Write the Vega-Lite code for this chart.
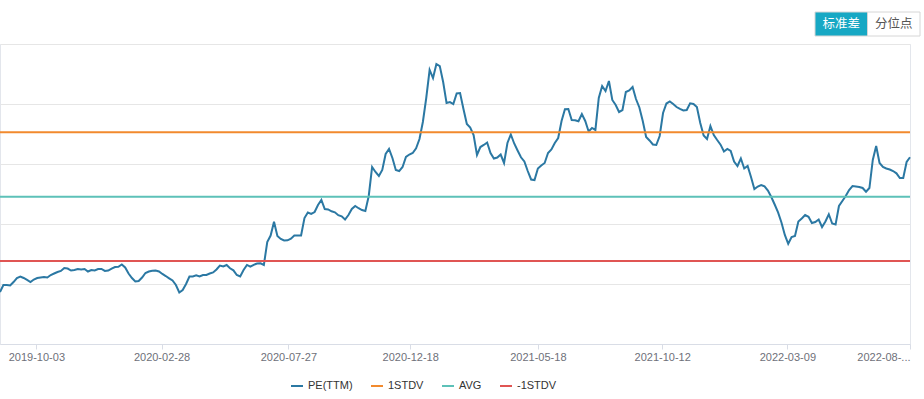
{
  "$schema": "https://vega.github.io/schema/vega-lite/v6.json",
  "background": "white",
  "padding": {"left": -5, "top": 11, "right": 0, "bottom": 0},
  "spacing": 6,
  "config": {"font": "Liberation Sans"},
  "resolve": {
    "scale": {"color": "independent", "fill": "independent", "x": "independent", "y": "independent"},
    "legend": {"color": "independent", "fill": "independent"}
  },
  "datasets": {
    "buttons": [
      {"label": "标准差", "selected": "yes"},
      {"label": "分位点", "selected": "no"}
    ],
    "bands": [
      {"series": "1STDV", "value": 45.3},
      {"series": "AVG", "value": 34.55},
      {"series": "-1STDV", "value": 23.85}
    ],
    "pe": [
      {"date": "2019-08-21", "pe": 18.67}, {"date": "2019-08-25", "pe": 19.83}, {"date": "2019-08-29", "pe": 19.83}, {"date": "2019-09-02", "pe": 19.75},
      {"date": "2019-09-06", "pe": 20.33}, {"date": "2019-09-10", "pe": 21.0}, {"date": "2019-09-14", "pe": 21.25}, {"date": "2019-09-18", "pe": 21.0},
      {"date": "2019-09-22", "pe": 20.67}, {"date": "2019-09-26", "pe": 20.33}, {"date": "2019-09-30", "pe": 20.75}, {"date": "2019-10-04", "pe": 21.0},
      {"date": "2019-10-08", "pe": 21.08}, {"date": "2019-10-12", "pe": 21.17}, {"date": "2019-10-16", "pe": 21.08}, {"date": "2019-10-20", "pe": 21.5},
      {"date": "2019-10-24", "pe": 21.75}, {"date": "2019-10-28", "pe": 22.0}, {"date": "2019-11-01", "pe": 22.17}, {"date": "2019-11-05", "pe": 22.67},
      {"date": "2019-11-09", "pe": 22.58}, {"date": "2019-11-13", "pe": 22.25}, {"date": "2019-11-17", "pe": 22.33}, {"date": "2019-11-21", "pe": 22.5},
      {"date": "2019-11-25", "pe": 22.42}, {"date": "2019-11-29", "pe": 22.5}, {"date": "2019-12-03", "pe": 22.08}, {"date": "2019-12-07", "pe": 22.33},
      {"date": "2019-12-11", "pe": 22.25}, {"date": "2019-12-15", "pe": 22.5}, {"date": "2019-12-19", "pe": 22.5}, {"date": "2019-12-23", "pe": 22.17},
      {"date": "2019-12-27", "pe": 22.25}, {"date": "2019-12-31", "pe": 22.58}, {"date": "2020-01-04", "pe": 22.83}, {"date": "2020-01-08", "pe": 22.88},
      {"date": "2020-01-12", "pe": 23.25}, {"date": "2020-01-16", "pe": 22.75}, {"date": "2020-01-20", "pe": 21.75}, {"date": "2020-01-24", "pe": 21.0},
      {"date": "2020-01-28", "pe": 20.42}, {"date": "2020-02-01", "pe": 20.5}, {"date": "2020-02-05", "pe": 21.08}, {"date": "2020-02-09", "pe": 21.83},
      {"date": "2020-02-13", "pe": 22.08}, {"date": "2020-02-17", "pe": 22.22}, {"date": "2020-02-21", "pe": 22.25}, {"date": "2020-02-25", "pe": 22.08},
      {"date": "2020-02-29", "pe": 21.67}, {"date": "2020-03-04", "pe": 21.33}, {"date": "2020-03-08", "pe": 20.95}, {"date": "2020-03-12", "pe": 20.58},
      {"date": "2020-03-16", "pe": 19.83}, {"date": "2020-03-20", "pe": 18.58}, {"date": "2020-03-24", "pe": 19.0}, {"date": "2020-03-28", "pe": 20.0},
      {"date": "2020-04-01", "pe": 21.25}, {"date": "2020-04-05", "pe": 21.25}, {"date": "2020-04-09", "pe": 21.45}, {"date": "2020-04-13", "pe": 21.25},
      {"date": "2020-04-17", "pe": 21.5}, {"date": "2020-04-21", "pe": 21.5}, {"date": "2020-04-25", "pe": 21.75}, {"date": "2020-04-29", "pe": 21.92},
      {"date": "2020-05-03", "pe": 22.42}, {"date": "2020-05-07", "pe": 23.08}, {"date": "2020-05-11", "pe": 22.92}, {"date": "2020-05-15", "pe": 23.17},
      {"date": "2020-05-19", "pe": 22.62}, {"date": "2020-05-23", "pe": 22.28}, {"date": "2020-05-27", "pe": 21.5}, {"date": "2020-05-31", "pe": 21.25},
      {"date": "2020-06-04", "pe": 22.33}, {"date": "2020-06-08", "pe": 23.17}, {"date": "2020-06-12", "pe": 22.88}, {"date": "2020-06-16", "pe": 23.2},
      {"date": "2020-06-20", "pe": 23.42}, {"date": "2020-06-24", "pe": 23.45}, {"date": "2020-06-28", "pe": 23.17}, {"date": "2020-07-02", "pe": 27.0},
      {"date": "2020-07-06", "pe": 28.08}, {"date": "2020-07-10", "pe": 30.38}, {"date": "2020-07-14", "pe": 28.0}, {"date": "2020-07-18", "pe": 27.5},
      {"date": "2020-07-22", "pe": 27.25}, {"date": "2020-07-26", "pe": 27.28}, {"date": "2020-07-30", "pe": 27.55}, {"date": "2020-08-03", "pe": 28.08},
      {"date": "2020-08-07", "pe": 28.08}, {"date": "2020-08-11", "pe": 28.08}, {"date": "2020-08-15", "pe": 31.0}, {"date": "2020-08-19", "pe": 31.92},
      {"date": "2020-08-23", "pe": 31.67}, {"date": "2020-08-27", "pe": 32.0}, {"date": "2020-08-31", "pe": 33.17}, {"date": "2020-09-04", "pe": 34.0},
      {"date": "2020-09-08", "pe": 32.5}, {"date": "2020-09-12", "pe": 32.42}, {"date": "2020-09-16", "pe": 32.12}, {"date": "2020-09-20", "pe": 31.95},
      {"date": "2020-09-24", "pe": 31.47}, {"date": "2020-09-28", "pe": 31.28}, {"date": "2020-10-02", "pe": 30.75}, {"date": "2020-10-06", "pe": 31.5},
      {"date": "2020-10-10", "pe": 32.5}, {"date": "2020-10-14", "pe": 33.0}, {"date": "2020-10-18", "pe": 32.63}, {"date": "2020-10-22", "pe": 32.33},
      {"date": "2020-10-26", "pe": 32.17}, {"date": "2020-10-30", "pe": 34.67}, {"date": "2020-11-03", "pe": 39.5}, {"date": "2020-11-07", "pe": 38.67},
      {"date": "2020-11-11", "pe": 38.0}, {"date": "2020-11-15", "pe": 39.0}, {"date": "2020-11-19", "pe": 41.67}, {"date": "2020-11-23", "pe": 42.5},
      {"date": "2020-11-27", "pe": 41.0}, {"date": "2020-12-01", "pe": 39.0}, {"date": "2020-12-05", "pe": 38.83}, {"date": "2020-12-09", "pe": 39.5},
      {"date": "2020-12-13", "pe": 41.17}, {"date": "2020-12-17", "pe": 41.58}, {"date": "2020-12-21", "pe": 41.83}, {"date": "2020-12-25", "pe": 42.62},
      {"date": "2020-12-29", "pe": 44.17}, {"date": "2021-01-02", "pe": 47.0}, {"date": "2021-01-06", "pe": 51.0}, {"date": "2021-01-10", "pe": 55.67},
      {"date": "2021-01-14", "pe": 54.33}, {"date": "2021-01-18", "pe": 56.67}, {"date": "2021-01-22", "pe": 56.33}, {"date": "2021-01-26", "pe": 53.67},
      {"date": "2021-01-30", "pe": 50.17}, {"date": "2021-02-03", "pe": 50.33}, {"date": "2021-02-07", "pe": 50.0}, {"date": "2021-02-11", "pe": 51.75},
      {"date": "2021-02-15", "pe": 51.83}, {"date": "2021-02-19", "pe": 49.17}, {"date": "2021-02-23", "pe": 46.67}, {"date": "2021-02-27", "pe": 46.08},
      {"date": "2021-03-03", "pe": 44.83}, {"date": "2021-03-07", "pe": 41.5}, {"date": "2021-03-11", "pe": 42.83}, {"date": "2021-03-15", "pe": 43.17},
      {"date": "2021-03-19", "pe": 43.58}, {"date": "2021-03-23", "pe": 41.83}, {"date": "2021-03-27", "pe": 40.92}, {"date": "2021-03-31", "pe": 41.08},
      {"date": "2021-04-04", "pe": 41.58}, {"date": "2021-04-08", "pe": 40.17}, {"date": "2021-04-12", "pe": 43.5}, {"date": "2021-04-16", "pe": 44.92},
      {"date": "2021-04-20", "pe": 43.42}, {"date": "2021-04-24", "pe": 42.25}, {"date": "2021-04-28", "pe": 41.12}, {"date": "2021-05-02", "pe": 40.42},
      {"date": "2021-05-06", "pe": 38.83}, {"date": "2021-05-10", "pe": 37.42}, {"date": "2021-05-14", "pe": 37.33}, {"date": "2021-05-18", "pe": 39.25},
      {"date": "2021-05-22", "pe": 39.75}, {"date": "2021-05-26", "pe": 40.17}, {"date": "2021-05-30", "pe": 41.83}, {"date": "2021-06-03", "pe": 42.42},
      {"date": "2021-06-07", "pe": 43.5}, {"date": "2021-06-11", "pe": 44.33}, {"date": "2021-06-15", "pe": 47.17}, {"date": "2021-06-19", "pe": 49.12},
      {"date": "2021-06-23", "pe": 49.17}, {"date": "2021-06-27", "pe": 47.33}, {"date": "2021-07-01", "pe": 47.3}, {"date": "2021-07-05", "pe": 47.12},
      {"date": "2021-07-09", "pe": 48.33}, {"date": "2021-07-13", "pe": 47.17}, {"date": "2021-07-17", "pe": 45.42}, {"date": "2021-07-21", "pe": 46.0},
      {"date": "2021-07-25", "pe": 45.67}, {"date": "2021-07-29", "pe": 51.0}, {"date": "2021-08-02", "pe": 53.0}, {"date": "2021-08-06", "pe": 52.17},
      {"date": "2021-08-10", "pe": 53.83}, {"date": "2021-08-14", "pe": 50.67}, {"date": "2021-08-18", "pe": 49.83}, {"date": "2021-08-22", "pe": 48.67},
      {"date": "2021-08-26", "pe": 49.0}, {"date": "2021-08-30", "pe": 52.0}, {"date": "2021-09-03", "pe": 52.25}, {"date": "2021-09-07", "pe": 52.83},
      {"date": "2021-09-11", "pe": 50.83}, {"date": "2021-09-15", "pe": 49.42}, {"date": "2021-09-19", "pe": 47.17}, {"date": "2021-09-23", "pe": 44.5},
      {"date": "2021-09-27", "pe": 43.92}, {"date": "2021-10-01", "pe": 43.25}, {"date": "2021-10-05", "pe": 43.17}, {"date": "2021-10-09", "pe": 44.67},
      {"date": "2021-10-13", "pe": 48.5}, {"date": "2021-10-17", "pe": 50.08}, {"date": "2021-10-21", "pe": 50.42}, {"date": "2021-10-25", "pe": 50.0},
      {"date": "2021-10-29", "pe": 49.5}, {"date": "2021-11-02", "pe": 49.17}, {"date": "2021-11-06", "pe": 48.92}, {"date": "2021-11-10", "pe": 49.0},
      {"date": "2021-11-14", "pe": 50.12}, {"date": "2021-11-18", "pe": 50.0}, {"date": "2021-11-22", "pe": 49.5}, {"date": "2021-11-26", "pe": 46.83},
      {"date": "2021-11-30", "pe": 44.75}, {"date": "2021-12-04", "pe": 44.17}, {"date": "2021-12-08", "pe": 46.33}, {"date": "2021-12-12", "pe": 44.83},
      {"date": "2021-12-16", "pe": 44.0}, {"date": "2021-12-20", "pe": 43.22}, {"date": "2021-12-24", "pe": 42.08}, {"date": "2021-12-28", "pe": 42.5},
      {"date": "2022-01-01", "pe": 42.17}, {"date": "2022-01-05", "pe": 40.42}, {"date": "2022-01-09", "pe": 39.67}, {"date": "2022-01-13", "pe": 40.92},
      {"date": "2022-01-17", "pe": 39.25}, {"date": "2022-01-21", "pe": 39.67}, {"date": "2022-01-25", "pe": 37.83}, {"date": "2022-01-29", "pe": 35.83},
      {"date": "2022-02-02", "pe": 36.25}, {"date": "2022-02-06", "pe": 36.5}, {"date": "2022-02-10", "pe": 36.28}, {"date": "2022-02-14", "pe": 35.58},
      {"date": "2022-02-18", "pe": 34.5}, {"date": "2022-02-22", "pe": 33.25}, {"date": "2022-02-26", "pe": 31.92}, {"date": "2022-03-02", "pe": 30.25},
      {"date": "2022-03-06", "pe": 28.17}, {"date": "2022-03-10", "pe": 26.7}, {"date": "2022-03-14", "pe": 27.83}, {"date": "2022-03-18", "pe": 28.0},
      {"date": "2022-03-22", "pe": 30.42}, {"date": "2022-03-26", "pe": 30.92}, {"date": "2022-03-30", "pe": 31.5}, {"date": "2022-04-03", "pe": 31.2},
      {"date": "2022-04-07", "pe": 30.17}, {"date": "2022-04-11", "pe": 30.33}, {"date": "2022-04-15", "pe": 30.75}, {"date": "2022-04-19", "pe": 29.5},
      {"date": "2022-04-23", "pe": 30.42}, {"date": "2022-04-27", "pe": 31.62}, {"date": "2022-05-01", "pe": 30.08}, {"date": "2022-05-05", "pe": 29.92},
      {"date": "2022-05-09", "pe": 33.0}, {"date": "2022-05-13", "pe": 33.83}, {"date": "2022-05-17", "pe": 34.67}, {"date": "2022-05-21", "pe": 35.67},
      {"date": "2022-05-25", "pe": 36.33}, {"date": "2022-05-29", "pe": 36.25}, {"date": "2022-06-02", "pe": 36.17}, {"date": "2022-06-06", "pe": 36.0},
      {"date": "2022-06-10", "pe": 35.38}, {"date": "2022-06-14", "pe": 36.0}, {"date": "2022-06-18", "pe": 40.67}, {"date": "2022-06-22", "pe": 43.0},
      {"date": "2022-06-26", "pe": 40.17}, {"date": "2022-06-30", "pe": 39.5}, {"date": "2022-07-04", "pe": 39.25}, {"date": "2022-07-08", "pe": 39.08},
      {"date": "2022-07-12", "pe": 38.83}, {"date": "2022-07-16", "pe": 38.45}, {"date": "2022-07-20", "pe": 37.67}, {"date": "2022-07-24", "pe": 37.67},
      {"date": "2022-07-28", "pe": 40.33}, {"date": "2022-08-01", "pe": 41.12}
    ]
  },
  "vconcat": [
    {
      "width": 920,
      "height": 24,
      "view": {"stroke": null},
      "data": {"name": "buttons"},
      "layer": [
        {
          "mark": {"type": "rect", "stroke": "#d6d6d6", "strokeWidth": 1},
          "encoding": {
            "x": {"field": "label", "type": "nominal", "axis": null,
                  "scale": {"domain": ["_1", "_2", "_3", "_4", "_5", "_6", "_7", "_8", "_9", "_10", "_11", "_12", "_13", "_14", "标准差", "分位点"],
                            "paddingInner": 0, "paddingOuter": 0.762, "align": 1}},
            "fill": {"field": "selected", "type": "nominal", "legend": null,
                     "scale": {"domain": ["yes", "no"], "range": ["#17a8c4", "#ffffff"]}}
          }
        },
        {
          "mark": {"type": "text", "font": "Noto Sans CJK SC", "fontSize": 12.5, "baseline": "middle"},
          "encoding": {
            "x": {"field": "label", "type": "nominal", "axis": null},
            "text": {"field": "label", "type": "nominal"},
            "color": {"field": "selected", "type": "nominal", "legend": null,
                      "scale": {"domain": ["yes", "no"], "range": ["#ffffff", "#555555"]}}
          }
        }
      ]
    },
    {
      "width": 910,
      "height": 300,
      "view": {"stroke": "#e3e6ec"},
      "layer": [
        {
          "data": {"name": "pe"},
          "mark": {"type": "line", "strokeWidth": 2},
          "encoding": {
            "x": {
              "field": "date", "type": "temporal",
              "scale": {"type": "utc", "nice": false},
              "axis": {
                "title": null,
                "grid": false,
                "values": [
                  {"year": 2019, "month": 10, "date": 3, "utc": true},
                  {"year": 2020, "month": 2, "date": 28, "utc": true},
                  {"year": 2020, "month": 7, "date": 27, "utc": true},
                  {"year": 2020, "month": 12, "date": 18, "utc": true},
                  {"year": 2021, "month": 5, "date": 18, "utc": true},
                  {"year": 2021, "month": 10, "date": 12, "utc": true},
                  {"year": 2022, "month": 3, "date": 9, "utc": true},
                  {"year": 2022, "month": 8, "date": 1, "utc": true}
                ],
                "labelExpr": "datum.value >= utc(2022, 6, 1) ? '2022-08-...' : utcFormat(datum.value, '%Y-%m-%d')",
                "labelFlush": true,
                "tickSize": 5,
                "tickColor": "#d9dde6",
                "domainColor": "#d9dde6",
                "labelColor": "#6e7079",
                "labelFont": "Liberation Sans",
                "labelFontSize": 11,
                "labelPadding": 2
              }
            },
            "y": {
              "field": "pe", "type": "quantitative",
              "scale": {"domain": [10, 60], "nice": false, "zero": false},
              "axis": {"values": [10, 20, 30, 40, 50, 60], "labels": false, "ticks": false, "domain": false,
                       "title": null, "grid": true, "gridColor": "#e6e6e6", "minExtent": 0, "maxExtent": 0}
            },
            "color": {
              "datum": "PE(TTM)", "type": "nominal", "title": null,
              "scale": {"domain": ["PE(TTM)", "1STDV", "AVG", "-1STDV"],
                        "range": ["#2b78a3", "#f28a2e", "#5dc1b8", "#e05553"]},
              "legend": {
                "title": null, "orient": "none", "legendX": 290, "legendY": 335,
                "direction": "horizontal", "symbolType": "stroke", "symbolSize": 144,
                "symbolStrokeWidth": 2, "labelFont": "Liberation Sans", "labelFontSize": 11,
                "labelColor": "#333333", "columnPadding": 14, "labelOffset": 4
              }
            }
          }
        },
        {
          "data": {"name": "bands"},
          "mark": {"type": "rule", "strokeWidth": 2},
          "encoding": {
            "y": {"field": "value", "type": "quantitative"},
            "color": {"field": "series", "type": "nominal", "title": null}
          }
        }
      ]
    }
  ]
}
